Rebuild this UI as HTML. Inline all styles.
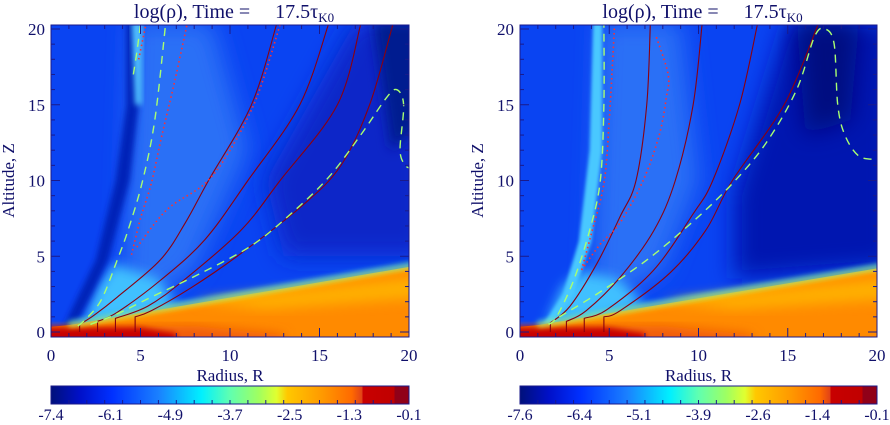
<!DOCTYPE html>
<html><head><meta charset="utf-8">
<style>
html,body{margin:0;padding:0;background:#fff;}
svg{display:block;font-family:"Liberation Serif",serif;}
</style></head>
<body>
<svg id="fig" width="890" height="425" viewBox="0 0 890 425" xmlns="http://www.w3.org/2000/svg">
<defs>
<filter id="b6" x="-20%" y="-20%" width="140%" height="140%"><feGaussianBlur stdDeviation="6"/></filter>
<filter id="b3" x="-20%" y="-20%" width="140%" height="140%"><feGaussianBlur stdDeviation="3"/></filter>
<filter id="b2" x="-20%" y="-20%" width="140%" height="140%"><feGaussianBlur stdDeviation="1.5"/></filter>
<filter id="b12" x="-30%" y="-30%" width="160%" height="160%"><feGaussianBlur stdDeviation="12"/></filter>
<linearGradient id="cbar" x1="0" x2="1" y1="0" y2="0">
<stop offset="0" stop-color="#00107a"/><stop offset="0.08" stop-color="#0010c8"/>
<stop offset="0.17" stop-color="#0030ff"/><stop offset="0.3" stop-color="#1a80ff"/>
<stop offset="0.42" stop-color="#00f0ff"/><stop offset="0.5" stop-color="#60ffb0"/>
<stop offset="0.58" stop-color="#a0ff60"/><stop offset="0.63" stop-color="#e0ff30"/>
<stop offset="0.66" stop-color="#ffc800"/><stop offset="0.76" stop-color="#ff9800"/>
<stop offset="0.84" stop-color="#ff6a00"/><stop offset="0.87" stop-color="#e04018"/>
<stop offset="0.87" stop-color="#c80000"/><stop offset="0.96" stop-color="#c00000"/>
<stop offset="0.96" stop-color="#900018"/><stop offset="1" stop-color="#900018"/>
</linearGradient>
<clipPath id="clipL"><rect x="51" y="25" width="358" height="312"/></clipPath>
<clipPath id="clipR"><rect x="520" y="25" width="357" height="312"/></clipPath>
</defs>
</svg>
<script>
// ---- data (data units: R radius, Z altitude) ----
const xTicks = [0, 5, 10, 15, 20];
const yTicks = [0, 5, 10, 15, 20];
const cbLabelsLeft = ["-7.4", "-6.1", "-4.9", "-3.7", "-2.5", "-1.3", "-0.1"];
const cbLabelsRight = ["-7.6", "-6.4", "-5.1", "-3.9", "-2.6", "-1.4", "-0.1"];
// first point = footpoint in disk; second = top of vertical stub
const fieldLinesLeft = [
  [[1.6,0],[1.6,0.5],[2.4,1.1],[3.7,2.3],[6.1,4.75],[7.5,7.2],[8.8,10],[11.2,15],[12.6,20.3]],
  [[2.6,0],[2.6,0.7],[3.7,1.3],[6.1,3.4],[8.6,6.1],[11,10],[13.9,15],[15.5,20.3]],
  [[3.6,0],[3.6,0.9],[5.4,1.7],[7.4,3.4],[10.6,6.7],[12.8,10],[16,15],[17.3,20.3]],
  [[4.7,0],[4.7,1.0],[5.6,1.4],[7.8,2.9],[10.4,5],[14,8.3],[16.2,11],[17.8,15],[19.1,20.3]]
];
const fieldLinesRight = [
  [[1.7,0],[1.7,0.6],[2.8,1.7],[4.3,4.5],[5.6,7.6],[6.5,10],[7.1,15],[7.3,20.3]],
  [[2.6,0],[2.6,0.7],[3.7,1.4],[5.6,3.6],[7.5,6.7],[8.7,10],[9.7,15],[10.2,20.3]],
  [[3.6,0],[3.6,0.9],[4.9,1.5],[7.5,4.1],[9.7,7.8],[10.8,10],[12.3,15],[13.3,20.3]],
  [[4.7,0],[4.7,1.0],[5.6,1.4],[8.4,3.9],[10.4,6.7],[11.9,10],[14.8,15],[16.7,20.3]]
];
const dashedLeft = [
  [[1.5,0.4],[1.9,0.8],[2.8,2.1],[3.7,4.75],[4.3,6.7],[5.1,9.9],[5.8,14],[6.4,20.3]],
  [[2.2,0.5],[3.7,1.2],[5.6,2.3],[8.4,3.9],[11.2,5.7],[13.4,7.8],[15.5,10.2],[17.3,13],[18.7,15.4],[19.3,16],[19.7,15],[19.5,12],[19.8,11],[20.1,10.8]],
  [[4.6,17],[4.8,18.5],[5.0,20.3]]
];
const dashedRight = [
  [[1.6,0.5],[2.05,1],[3.0,3.4],[3.9,6.7],[4.5,10],[4.7,15],[4.7,20.3]],
  [[2.2,1],[4.3,2.5],[7.1,4.75],[9.7,7.3],[11.9,9.8],[13.8,12.5],[15.5,16],[16.5,19.5],[17.1,20],[17.6,19],[17.8,15],[18.2,13],[19,11.6],[20.1,11.4]]
];
const dottedLeft = [
  [[4.8,5.6],[6.5,8.1],[8.6,9.8],[10,12],[11.5,15.5],[12.8,20.3]],
  [[4.5,5.1],[5.0,7.5],[5.6,9.8],[6.2,13],[6.9,16.5],[7.6,20.3]],
  [[4.9,18],[5.3,20.3]]
];
const dottedRight = [
  [[3.45,4.1],[4.0,6.5],[4.7,9.8],[5.0,14],[5.3,20.3]],
  [[3.45,4.1],[4.5,5.8],[5.6,7.2],[6.9,10],[7.8,13],[8.2,15.5],[8.3,17],[7.6,19.6]]
];
// ---- layout ----
const NS = "http://www.w3.org/2000/svg";
const svg = document.getElementById("fig");
function mk(tag, attrs, parent){const e=document.createElementNS(NS,tag);for(const k in attrs)e.setAttribute(k,attrs[k]);(parent||svg).appendChild(e);return e;}
function panel(p){
  const x0=p.x0, xw=p.xw, yTop=25, yBot=337;
  const sx=r=>x0+r*xw/20;
  const sy=z=>332-z*15.15;
  const g=mk("g",{"clip-path":`url(#${p.clip})`});
  
  
  const poly=(pts,fill,filt,par)=>mk("polygon",{points:pts.map(q=>sx(q[0])+","+sy(q[1])).join(" "),fill:fill,filter:filt||""},par||g);
  mk("rect",{x:x0,y:yTop,width:xw,height:yBot-yTop,fill:"#0a44f2"},g);
  p.shade.forEach(s=>poly(s[0],s[1],s[2]));
  // disk
  const dl=p.disk;
  poly([[-1,-1],[-1,dl[0]],[1,dl[1]],[21,dl[2]],[21,-1]],"#ff8a00");
  poly([[-1,-1],[-1,0.2],[8,0.4],[13,-0.2],[13,-1]],"#f05a08","url(#b6)");
  poly([[-1,-1],[-1,0.3],[5,0.3],[7,-0.1],[7,-1]],"#c80000","url(#b3)");
  poly([[8,2],[21,dl[2]-0.8],[21,dl[2]-2.2],[12,1.5]],"#ffb000","url(#b6)");
  mk("line",{x1:sx(1),y1:sy(dl[1]),x2:sx(21),y2:sy(dl[2]),stroke:"#f0f020","stroke-width":4,filter:"url(#b3)"},g);
  mk("line",{x1:sx(1),y1:sy(dl[1]+0.15),x2:sx(21),y2:sy(dl[2]+0.15),stroke:"#30e0ff","stroke-width":2.5,filter:"url(#b3)"},g);
  const curve=(pts,start)=>{let d=start||("M"+sx(pts[0][0])+","+sy(pts[0][1]));
    for(let i=0;i<pts.length-1;i++){const a=pts[Math.max(i-1,0)],b=pts[i],c=pts[i+1],e=pts[Math.min(i+2,pts.length-1)];
      const c1=[b[0]+(c[0]-a[0])/6,b[1]+(c[1]-a[1])/6],c2=[c[0]-(e[0]-b[0])/6,c[1]-(e[1]-b[1])/6];
      d+=` C${sx(c1[0])},${sy(c1[1])} ${sx(c2[0])},${sy(c2[1])} ${sx(c[0])},${sy(c[1])}`;}
    return d;};
  const path=(pts,attrs,stub)=>{let d;
    if(stub){d=curve(pts.slice(1),`M${sx(pts[0][0])},${sy(pts[0][1])} L${sx(pts[1][0])},${sy(pts[1][1])}`);}
    else d=curve(pts);
    attrs.d=d;attrs.fill="none";return mk("path",attrs,g);};
  p.lines.forEach((l,i)=>{const e=path(l,{stroke:"#8a0010","stroke-width":1.1},true);
    
    });
  p.dashed.forEach((l,i)=>{const e=path(l,{stroke:"#a8ff70","stroke-width":1.4,"stroke-dasharray":"8 6"});
    
    });
  p.dotted.forEach((l,i)=>{const e=path(l,{stroke:"#ff3030","stroke-width":1.6,"stroke-dasharray":"1.5 3"});
    
    });
  // frame + ticks
  const ax=mk("g",{stroke:"#1a1a8a","stroke-width":1,fill:"none"});
  
  
  mk("rect",{x:x0,y:yTop,width:xw,height:yBot-yTop},ax);
  for(let r=0;r<=20;r++){const L=r%5==0?9:4;
    mk("line",{x1:sx(r),y1:yBot,x2:sx(r),y2:yBot-L},ax);mk("line",{x1:sx(r),y1:yTop,x2:sx(r),y2:yTop+L},ax);
    mk("line",{x1:x0,y1:sy(r),x2:x0+L,y2:sy(r)},ax);mk("line",{x1:x0+xw,y1:sy(r),x2:x0+xw-L,y2:sy(r)},ax);}
  xTicks.forEach(v=>{const t=mk("text",{x:sx(v),y:361,"text-anchor":"middle","font-size":17,fill:"#10106a"});t.textContent=v;
    
    });
  yTicks.forEach(v=>{const t=mk("text",{x:x0-6,y:sy(v)+6,"text-anchor":"end","font-size":17,fill:"#10106a"});t.textContent=v;
    
    });
  const xt=mk("text",{x:x0+xw/2,y:381,"text-anchor":"middle","font-size":17,fill:"#10106a"});xt.textContent="Radius, R";
  
  
  const yt=mk("text",{x:0,y:0,"text-anchor":"middle","font-size":17,fill:"#10106a",transform:`translate(${x0-37},${sy(10)}) rotate(-90)`});yt.textContent="Altitude, Z";
  
  
  const tt=mk("text",{x:x0+xw/2+4,y:18,"text-anchor":"middle","font-size":20,fill:"#10106a"});
  tt.innerHTML='log(ρ), Time =\u00a0\u00a0\u00a0\u00a0\u00a017.5τ<tspan font-size="13" dy="4">K0</tspan>';
  
  
  // colorbar
  const cb=mk("rect",{x:x0,y:386,width:xw,height:18,fill:"url(#cbar)",stroke:"#1a1a8a"});
  
  
  for(let i=1;i<20;i++)mk("line",{x1:x0+i*xw/20,y1:404,x2:x0+i*xw/20,y2:400,stroke:"#1a1a8a"});
  p.cb.forEach((s,i)=>{const t=mk("text",{x:x0+i*xw/6,y:420,"text-anchor":"middle","font-size":16,fill:"#10106a"});t.textContent=s;
    
    });
}
panel({name:"left",x0:51,xw:358,clip:"clipL",disk:[0.25,0.45,4.5],cb:cbLabelsLeft,
  lines:fieldLinesLeft,dashed:dashedLeft,dotted:dottedLeft,
  shade:[
    [[[4.5,20.5],[9,20.5],[11,12],[8,4],[4,1]],"#2a70f6","url(#b12)"],
    [[[1.8,0.6],[4,0.8],[7,1.8],[6,3.5],[3.5,4.5],[2.6,3]],"#40c0ff","url(#b6)"],
    [[[0.7,0.3],[1.3,0.3],[2.3,2.5],[3.2,4.75],[4.4,10],[4.9,15],[4.8,20.5],[4.2,20.5],[4.2,15],[3.6,10],[2.5,4.75],[1.2,1.6]],"#0020b8","url(#b3)"],
    [[[4.5,20.5],[5.1,20.5],[5.1,15],[4.7,15]],"#50c0ff","url(#b3)"],
    [[[13,5],[21,5],[21,20.5],[17,20.5],[12,10]],"#0828c8","url(#b12)"],
    [[[18,20.5],[21,20.5],[21,14],[19,12]],"#001a90","url(#b6)"]
  ]});
panel({name:"right",x0:520,xw:357,clip:"clipR",disk:[0.25,0.45,4.4],cb:cbLabelsRight,
  lines:fieldLinesRight,dashed:dashedRight,dotted:dottedRight,
  shade:[
    [[[4.5,20.5],[9,20.5],[10,10],[8,4],[4,1.5]],"#2a70f6","url(#b12)"],
    [[[1.5,0.6],[4,0.8],[7,1.8],[5.5,3.5],[3.5,4],[2.4,3]],"#40c0ff","url(#b6)"],
    [[[1.3,0.5],[2.4,2.5],[3.3,6],[3.9,12],[4.1,20.5],[4.6,20.5],[4.6,12],[4.0,6],[3.0,2.5],[1.9,0.5]],"#48c8ff","url(#b2)"],
    [[[12,3.5],[21,4.3],[21,20.5],[15,20.5],[12,9]],"#0018b0","url(#b12)"],
    [[[15.5,20.5],[19,20.5],[18.5,14],[16,13]],"#000f80","url(#b12)"]
  ]});
</script>
</body></html>
